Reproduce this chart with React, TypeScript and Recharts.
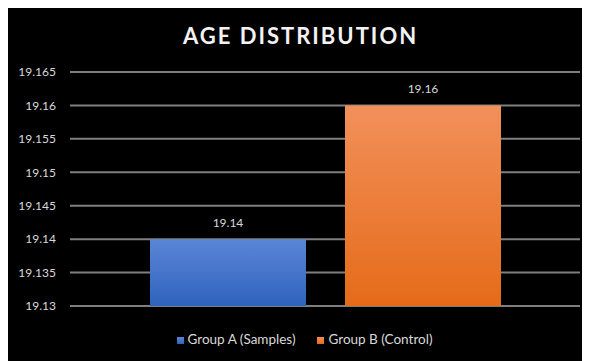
import React from 'react'
import { Bar, BarChart, CartesianGrid, LabelList, Legend, XAxis, YAxis } from 'recharts'

const categories = ['Age']
const groupA = [19.14]
const groupB = [19.16]
const seriesNames = ['Group A (Samples)', 'Group B (Control)']
const yTicks = [19.13, 19.135, 19.14, 19.145, 19.15, 19.155, 19.16, 19.165]

const data = categories.map((name, i) => ({ name, a: groupA[i], b: groupB[i] }))

const fmt = (v: number) => String(Number(v.toFixed(3)))

function App() {
  return (
    <div style={{ position: 'relative', width: 583, height: 355, marginLeft: -1, marginTop: -2, background: '#000', fontFamily: 'Lato, sans-serif' }}>
      <div style={{ position: 'absolute', top: 16, left: 2, width: 583, textAlign: 'center', color: '#f2f2f2', fontWeight: 700, fontSize: 22, letterSpacing: 2 }}>
        AGE DISTRIBUTION
      </div>
      <BarChart
        width={583}
        height={355}
        data={data}
        margin={{ top: 66, right: 10, left: 0, bottom: 39 }}
        barGap={39}
        barSize={156}
      >
        <defs>
          <linearGradient id='gA' x1='0' y1='0' x2='0' y2='1'>
            <stop offset='0%' stopColor='#5b86d7' />
            <stop offset='100%' stopColor='#2f63bd' />
          </linearGradient>
          <linearGradient id='gB' x1='0' y1='0' x2='0' y2='1'>
            <stop offset='0%' stopColor='#f2905a' />
            <stop offset='100%' stopColor='#e56b19' />
          </linearGradient>
        </defs>
        <CartesianGrid vertical={false} stroke='#7f7f7f' strokeWidth={2} />
        <XAxis dataKey='name' hide />
        <YAxis
          domain={[19.13, 19.165]}
          ticks={yTicks}
          tickFormatter={fmt}
          width={63}
          axisLine={false}
          tickLine={false}
          tickSize={0}
          tickMargin={14}
          tick={{ fill: '#d9d9d9', fontSize: 12 }}
          allowDataOverflow
        />
        <Legend
          verticalAlign='bottom'
          iconType='square'
          iconSize={7}
          wrapperStyle={{ bottom: 14, left: 22, fontSize: 13.5 }}
          formatter={(value) => <span style={{ color: '#d9d9d9', marginRight: 12 }}>{value}</span>}
        />
        <Bar dataKey='a' name={seriesNames[0]} fill='url(#gA)' isAnimationActive={false}>
          <LabelList dataKey='a' position='top' offset={12} fill='#d9d9d9' fontSize={12} formatter={(v: any) => fmt(v)} />
        </Bar>
        <Bar dataKey='b' name={seriesNames[1]} fill='url(#gB)' isAnimationActive={false}>
          <LabelList dataKey='b' position='top' offset={12} fill='#d9d9d9' fontSize={12} formatter={(v: any) => fmt(v)} />
        </Bar>
      </BarChart>
    </div>
  )
}

export default App
